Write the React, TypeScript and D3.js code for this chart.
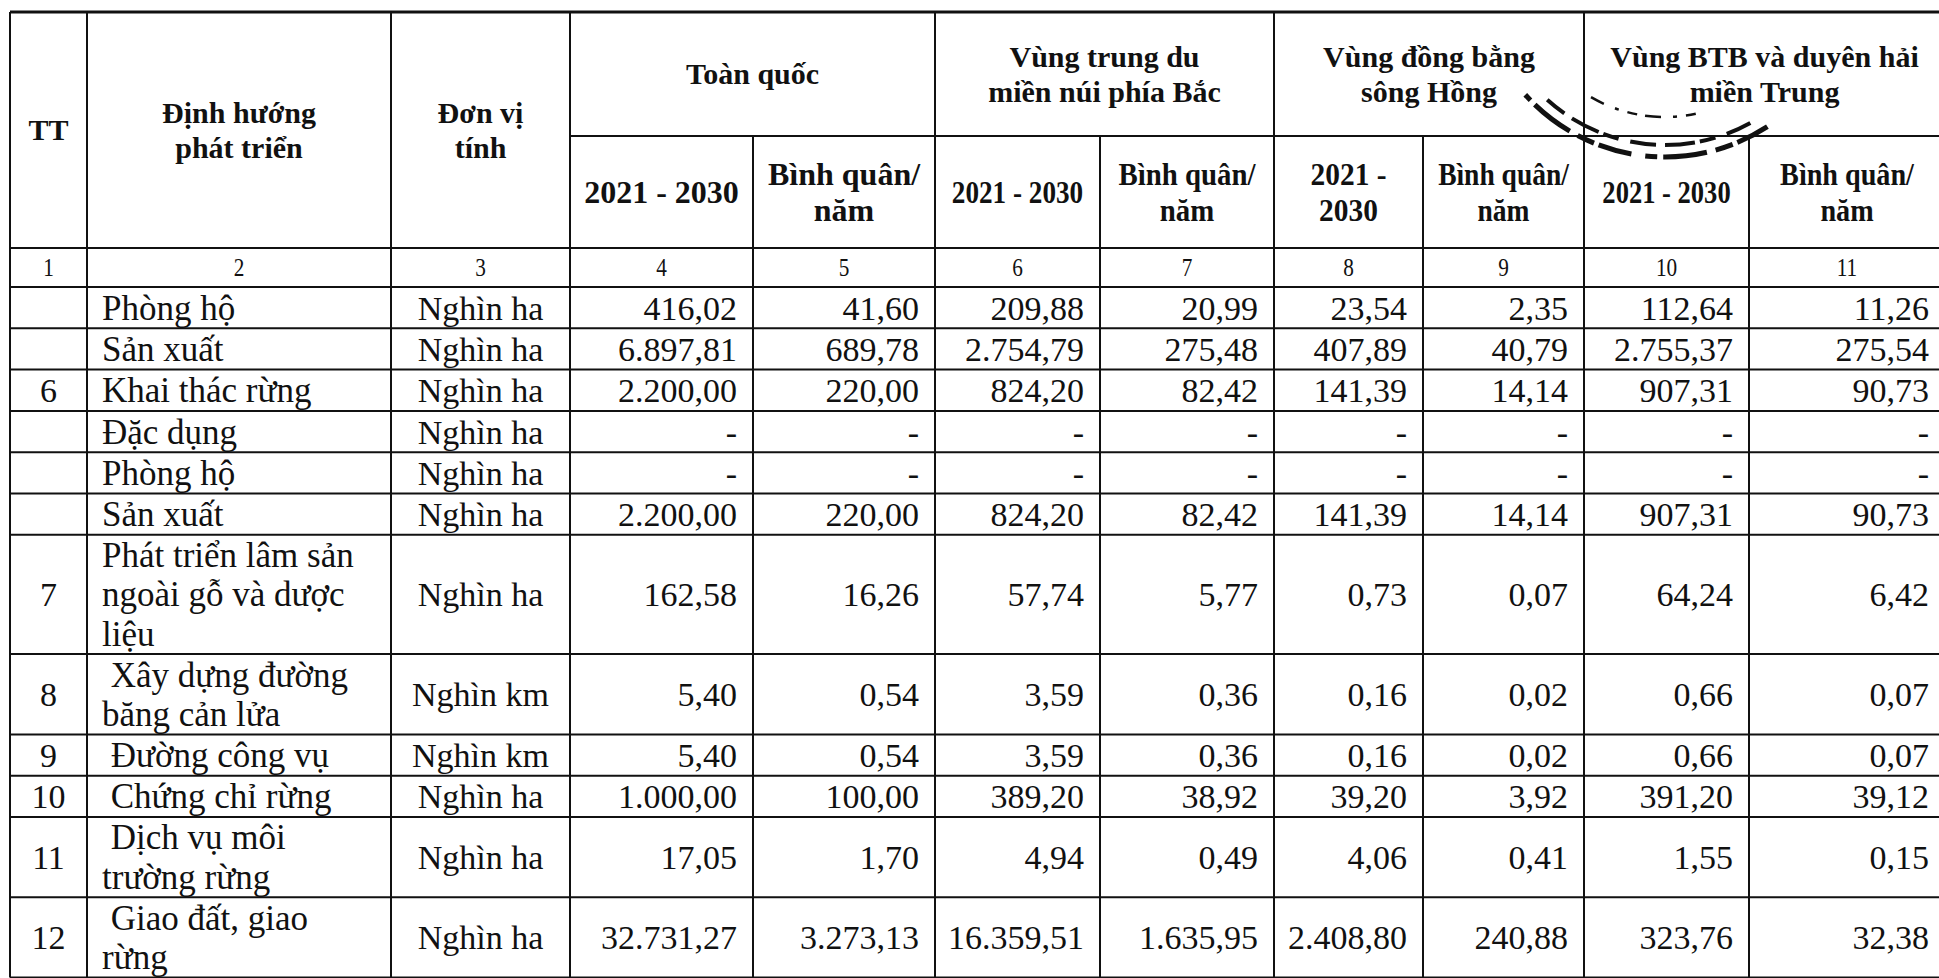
import React, { useEffect, useRef } from "react";
import * as d3 from "d3";

// row data
const rowNumbers = ["", "", "6", "", "", "", "7", "8", "9", "10", "11", "12"];
const rowLabels = [
  ["Phòng hộ"],
  ["Sản xuất"],
  ["Khai thác rừng"],
  ["Đặc dụng"],
  ["Phòng hộ"],
  ["Sản xuất"],
  ["Phát triển lâm sản", "ngoài gỗ và dược", "liệu"],
  [" Xây dựng đường", "băng cản lửa"],
  [" Đường công vụ"],
  [" Chứng chỉ rừng"],
  [" Dịch vụ môi", "trường rừng"],
  [" Giao đất, giao", "rừng"],
];
const rowUnits = [
  "Nghìn ha", "Nghìn ha", "Nghìn ha", "Nghìn ha", "Nghìn ha", "Nghìn ha",
  "Nghìn ha", "Nghìn km", "Nghìn km", "Nghìn ha", "Nghìn ha", "Nghìn ha",
];

const toanQuocTotal = ["416,02", "6.897,81", "2.200,00", "-", "-", "2.200,00", "162,58", "5,40", "5,40", "1.000,00", "17,05", "32.731,27"];
const toanQuocAvg = ["41,60", "689,78", "220,00", "-", "-", "220,00", "16,26", "0,54", "0,54", "100,00", "1,70", "3.273,13"];
const trungDuTotal = ["209,88", "2.754,79", "824,20", "-", "-", "824,20", "57,74", "3,59", "3,59", "389,20", "4,94", "16.359,51"];
const trungDuAvg = ["20,99", "275,48", "82,42", "-", "-", "82,42", "5,77", "0,36", "0,36", "38,92", "0,49", "1.635,95"];
const songHongTotal = ["23,54", "407,89", "141,39", "-", "-", "141,39", "0,73", "0,16", "0,16", "39,20", "4,06", "2.408,80"];
const songHongAvg = ["2,35", "40,79", "14,14", "-", "-", "14,14", "0,07", "0,02", "0,02", "3,92", "0,41", "240,88"];
const btbTotal = ["112,64", "2.755,37", "907,31", "-", "-", "907,31", "64,24", "0,66", "0,66", "391,20", "1,55", "323,76"];
const btbAvg = ["11,26", "275,54", "90,73", "-", "-", "90,73", "6,42", "0,07", "0,07", "39,12", "0,15", "32,38"];

const valueColumns = [toanQuocTotal, toanQuocAvg, trungDuTotal, trungDuAvg, songHongTotal, songHongAvg, btbTotal, btbAvg];

// header text
const groupHeaders = [
  ["Toàn quốc"],
  ["Vùng trung du", "miền núi phía Bắc"],
  ["Vùng đồng bằng", "sông Hồng"],
  ["Vùng BTB và duyên hải", "miền Trung"],
];
const subHeaders = [
  ["2021 - 2030"],
  ["Bình quân/", "năm"],
  ["2021 - 2030"],
  ["Bình quân/", "năm"],
  ["2021 -", "2030"],
  ["Bình quân/", "năm"],
  ["2021 - 2030"],
  ["Bình quân/", "năm"],
];
const fixedHeaders = [["TT"], ["Định hướng", "phát triển"], ["Đơn vị", "tính"]];
const columnNumbers = ["1", "2", "3", "4", "5", "6", "7", "8", "9", "10", "11"];

// layout
const W = 1939;
const H = 978;
const colWidths = [77, 304, 179, 183, 182, 165, 174, 149, 161, 165, 196];
const subSqueeze = [1, 1, 0.85, 0.9, 0.92, 0.86, 0.83, 0.88];
const FONT = "'Liberation Serif', 'Times New Roman', serif";

// partial seal stamp bleeding through the header (angles in degrees, d3 convention)
const stampCenter = [1665, -31];
const stampRings = [
  { r: 188, from: 147, to: 228, width: 5, dash: "34 5 18 9 44 6 12 14" },
  { r: 176, from: 151, to: 222, width: 4, dash: "26 12 16 5 30 9" },
  { r: 148, from: 168, to: 210, width: 2.5, dash: "10 9 4 12 16 8" },
];

const App = () => {
  const svgRef = useRef<SVGSVGElement>(null);

  useEffect(() => {
    const svg = d3.select(svgRef.current);
    svg.selectAll("*").remove();

    const x0 = 10;
    const edges = [x0, ...Array.from(d3.cumsum(colWidths), (d) => x0 + d)];
    const top = 12;
    const headMid = 136;
    const headBottom = 248;
    const numBottom = 287;

    const singleH = 41.3;
    const extraLine = 39;
    const lineH = 39.5;
    const heights = rowLabels.map((l) => singleH + (l.length - 1) * extraLine);
    const rowTops = [numBottom, ...Array.from(d3.cumsum(heights), (d) => numBottom + d)];

    svg.append("rect").attr("width", W).attr("height", H).attr("fill", "#fff");

    // stamp under the text
    const rad = Math.PI / 180;
    svg
      .append("g")
      .attr("transform", `translate(${stampCenter[0]},${stampCenter[1]})`)
      .selectAll("path")
      .data(stampRings)
      .join("path")
      .attr("d", (d) => {
        const p = d3.path();
        p.arc(0, 0, d.r, (d.from - 90) * rad, (d.to - 90) * rad);
        return p.toString();
      })
      .attr("fill", "none")
      .attr("stroke", "#111")
      .attr("stroke-width", (d) => d.width)
      .attr("stroke-dasharray", (d) => d.dash);

    const g = svg.append("g").attr("font-family", FONT).attr("fill", "#111");

    const multiText = (
      sel: any,
      lines: string[],
      cx: number,
      cy: number,
      opts: { size: number; bold?: boolean; anchor?: string; lh?: number; squeeze?: number; shift?: number }
    ) => {
      const lh = opts.lh ?? lineH;
      const first = cy - ((lines.length - 1) * lh) / 2 + (opts.shift ?? opts.size * 0.35);
      const grp = sel
        .append("g")
        .attr("transform", `translate(${cx},0) scale(${opts.squeeze ?? 1},1)`);
      lines.forEach((t, i) => {
        grp
          .append("text")
          .attr("x", 0)
          .attr("y", first + i * lh)
          .attr("text-anchor", opts.anchor ?? "middle")
          .attr("font-size", opts.size)
          .attr("font-weight", opts.bold ? "bold" : "normal")
          .style("white-space", "pre")
          .text(t);
      });
    };

    // fixed header cells (TT, label, unit)
    fixedHeaders.forEach((lines, i) => {
      multiText(g, lines, (edges[i] + edges[i + 1]) / 2, (top + headBottom) / 2, {
        size: 30,
        bold: true,
        lh: 35,
        shift: 10,
      });
    });

    // group headers
    groupHeaders.forEach((lines, i) => {
      const a = edges[3 + i * 2];
      const b = edges[5 + i * 2];
      multiText(g, lines, (a + b) / 2, (top + headMid) / 2, { size: 30, bold: true, lh: 35, shift: 10 });
    });

    // sub headers
    subHeaders.forEach((lines, i) => {
      multiText(g, lines, (edges[3 + i] + edges[4 + i]) / 2, (headMid + headBottom) / 2, {
        size: 32,
        bold: true,
        lh: 36,
        squeeze: subSqueeze[i],
        shift: 11,
      });
    });

    // column number row
    columnNumbers.forEach((n, i) => {
      multiText(g, [n], (edges[i] + edges[i + 1]) / 2, (headBottom + numBottom) / 2, {
        size: 25,
        squeeze: 0.85,
        shift: 9,
      });
    });

    // body rows
    rowLabels.forEach((lines, r) => {
      const cy = (rowTops[r] + rowTops[r + 1]) / 2;
      multiText(g, [rowNumbers[r]], (edges[0] + edges[1]) / 2, cy, { size: 34, shift: 12 });
      multiText(g, lines, edges[1] + 15, cy, { size: 35, anchor: "start", shift: 12 });
      multiText(g, [rowUnits[r]], (edges[2] + edges[3]) / 2, cy, { size: 34, shift: 12 });
      valueColumns.forEach((col, c) => {
        multiText(g, [col[r]], edges[4 + c] - 16, cy, { size: 34, anchor: "end", shift: 12 });
      });
    });

    // grid lines
    const bottom = rowTops[rowTops.length - 1];
    const right = edges[edges.length - 1];
    const lines = svg.append("g").attr("stroke", "#111").attr("stroke-width", 2);

    const hLines: [number, number, number][] = [
      [top, edges[0], right],
      [headMid, edges[3], right],
      [headBottom, edges[0], right],
      ...rowTops.map((y) => [y, edges[0], right] as [number, number, number]),
    ];
    lines
      .selectAll("line.h")
      .data(hLines)
      .join("line")
      .attr("x1", (d) => d[1])
      .attr("x2", (d) => d[2])
      .attr("y1", (d) => d[0])
      .attr("y2", (d) => d[0])
      .attr("stroke-width", (d, i) => (i === 0 ? 3 : 2));

    // full-height verticals vs. those starting at the sub-header line
    const vLines = edges.map((x, i) => {
      const sub = i >= 4 && i <= 10 && (i - 4) % 2 === 0;
      return { x, y1: sub ? headMid : top };
    });
    lines
      .selectAll("line.v")
      .data(vLines)
      .join("line")
      .attr("x1", (d) => d.x)
      .attr("x2", (d) => d.x)
      .attr("y1", (d) => d.y1)
      .attr("y2", bottom);
  }, []);

  return (
    <svg
      ref={svgRef}
      width={W}
      height={H}
      style={{ position: "absolute", left: 0, top: 0, display: "block" }}
    />
  );
};

export default App;
